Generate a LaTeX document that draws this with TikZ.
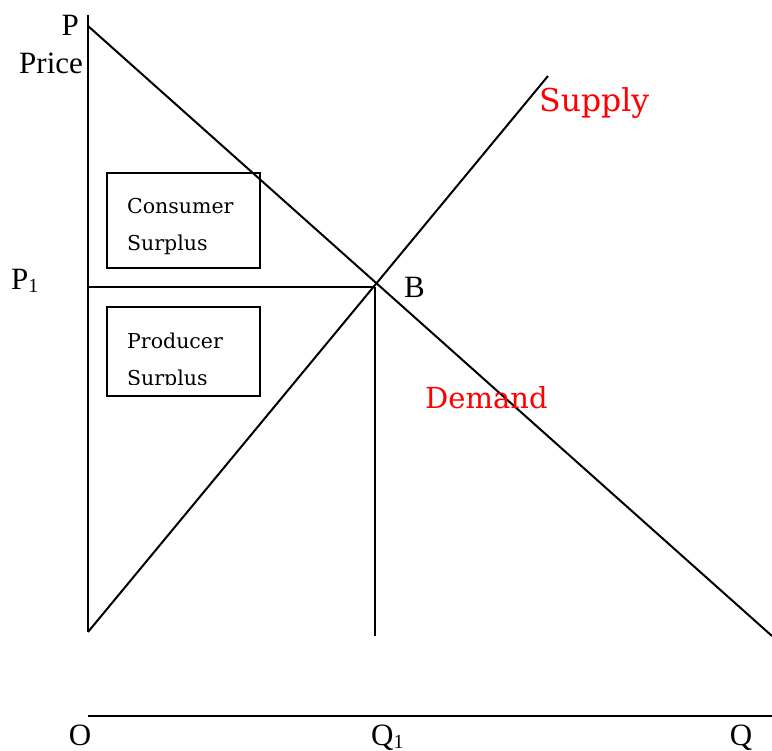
\documentclass[tikz,border=0pt]{standalone}
\usepackage{fontspec}
\setmainfont{Liberation Serif}
\newfontfamily\dvs{DejaVu Serif}
\definecolor{lblred}{RGB}{255,0,0}
\tikzset{
  ln/.style={line width=2pt, black},
  lbl/.style={inner sep=0pt, font=\fontsize{31}{31}\selectfont},
  redlbl/.style={inner sep=0pt, text=lblred, font=\dvs\fontsize{29}{29}\selectfont},
  boxtxt/.style={inner sep=0pt, anchor=base west, font=\dvs\fontsize{20.5}{20.5}\selectfont},
  boxframe/.style={line width=2pt, black}
}
\newcommand{\subone}{\raisebox{-3pt}{\fontsize{20}{20}\selectfont 1}}
\begin{document}
\begin{tikzpicture}[x=1pt,y=-1pt]
\useasboundingbox (0,0) rectangle (772,751);
% coordinates
\coordinate (Ytop) at (88,15);
\coordinate (Ybot) at (88,632);
\coordinate (D0) at (88,26);
\coordinate (D1) at (772,636);
\coordinate (S0) at (88,632);
\coordinate (S1) at (548,76);
\coordinate (B) at (375,287);
\coordinate (Bbot) at (375,636);
\coordinate (Xl) at (88,716);
\coordinate (Xr) at (772,716);
% axes and curves
\draw[ln] (Ytop) -- (Ybot);
\draw[ln] (D0) -- (D1);
\draw[ln] (S0) -- (S1);
\draw[ln] (Ytop|-B) -- (B);
\draw[ln] (B) -- (Bbot);
\draw[ln] (Xl) -- (Xr);
% boxes
\draw[boxframe] (107,173) rectangle (260,268);
\draw[boxframe] (107,307) rectangle (260,396);
\node[boxtxt] (cs1) at (127,214) {Consumer};
\node[boxtxt] (cs2) at (127,251) {Surplus};
\node[boxtxt] (ps1) at (127,349) {Producer};
\begin{scope}
\clip (100,360) rectangle (265,385);
\node[boxtxt] (ps2) at (127,386) {Surplus};
\end{scope}
% labels
\node[lbl, anchor=base east] (lP) at (79,36) {P};
\node[lbl, anchor=base west] (lPrice) at (19,74) {Price};
\node[lbl, anchor=base west] (lP1) at (11,290) {P\subone};
\node[lbl, anchor=base west] (lB) at (404,298) {B};
\node[lbl, anchor=base] (lO) at (80,745) {O};
\node[lbl, anchor=base west] (lQ1) at (371,745) {Q\subone};
\node[lbl, anchor=base] (lQ) at (741,745) {Q};
\node[redlbl, anchor=base west, font=\dvs\fontsize{31.5}{31.5}\selectfont] (lS) at (539,112) {Supply};
\node[redlbl, anchor=base west] (lD) at (425,409) {Demand};
\end{tikzpicture}
\end{document}
